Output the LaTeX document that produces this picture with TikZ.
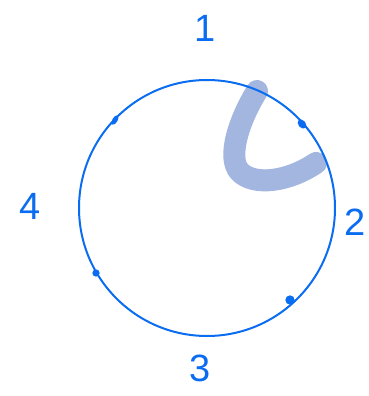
\documentclass[tikz,border=0pt]{standalone}
\usepackage{fontspec}
\setmainfont{Liberation Sans}
\usetikzlibrary{shapes.geometric}
\definecolor{inkblue}{HTML}{0A6CF0}
\definecolor{markblue}{HTML}{A2B6E0}
\begin{document}
\begin{tikzpicture}[
    x=1pt, y=-1pt,
    ring/.style={draw=inkblue, line width=2pt},
    tick/.style={fill=inkblue, draw=inkblue, line width=1.2pt},
    digit/.style={text=inkblue, font=\fontsize{38}{40}\selectfont, inner sep=0pt},
    stroke/.style={draw=markblue, line width=22pt, line cap=round, line join=round}
]
\useasboundingbox (0,0) rectangle (368,396);

% --- thick highlight stroke ---
\draw[stroke] (257,91) .. controls (240,118) and (226,158) .. (240,172)
  .. controls (254,186) and (288,182) .. (316,163);

% --- circle ---
\node[circle, ring, minimum size=256pt, inner sep=0pt] (clock) at (207,208) {};

% --- four marks on the circle ---
\node[tick, ellipse, minimum width=4pt, minimum height=9pt, inner sep=0pt, rotate=-30] (m1) at (115,120) {};
\node[tick, ellipse, minimum width=6pt, minimum height=9pt, inner sep=0pt, rotate=40] (m2) at (302,124) {};
\node[tick, circle, minimum size=8pt, inner sep=0pt] (m3) at (290,300) {};
\node[tick, circle, minimum size=6pt, inner sep=0pt] (m4) at (96,273) {};

% --- labels ---
\node[digit] (l1) at (205,28) {1};
\node[digit] (l2) at (355,222) {2};
\node[digit] (l3) at (200,368) {3};
\node[digit] (l4) at (30,206) {4};

\end{tikzpicture}
\end{document}
